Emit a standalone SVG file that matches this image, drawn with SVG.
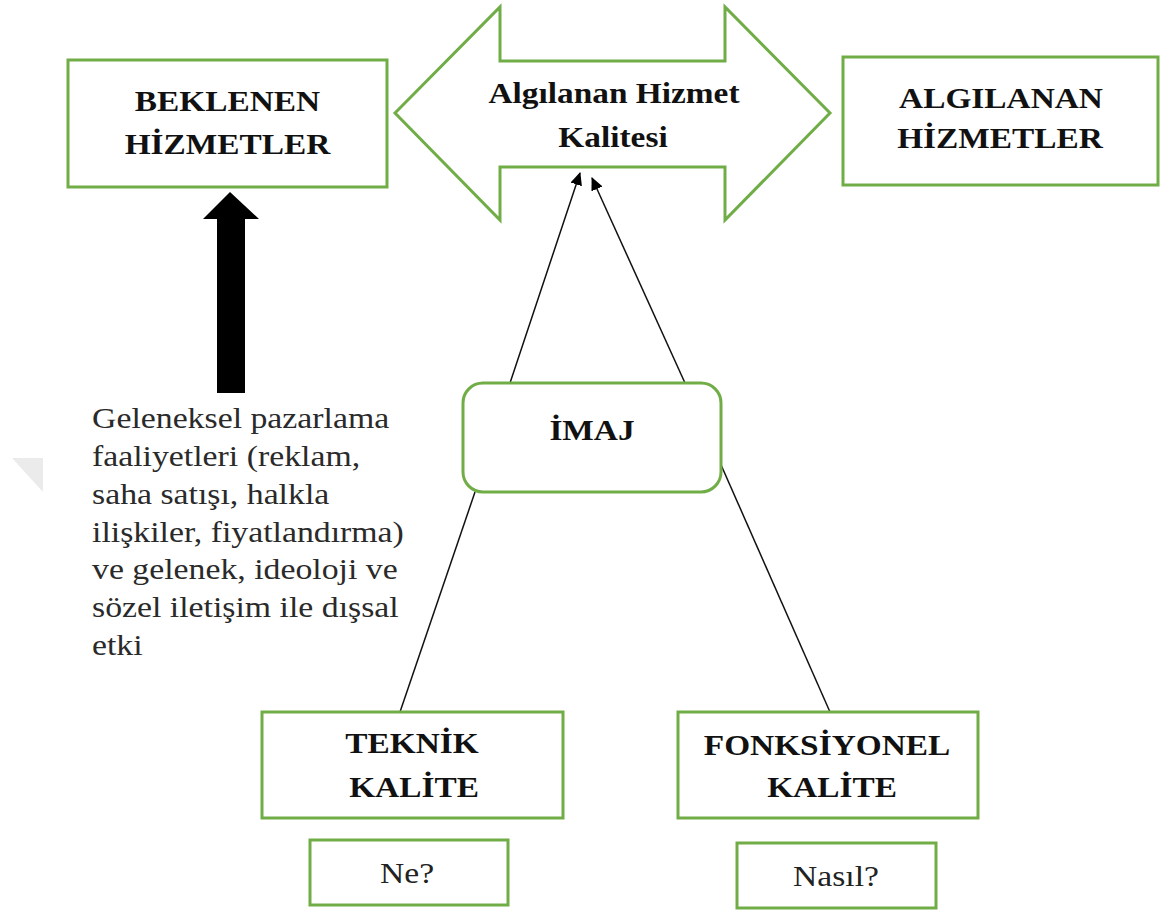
<svg xmlns="http://www.w3.org/2000/svg" width="1162" height="914" viewBox="0 0 1162 914">
  <style>
    .box { fill: #ffffff; stroke: #70AD47; stroke-width: 3; }
    .hd { font-family: "Liberation Serif", "Times New Roman", serif; font-weight: bold; font-size: 29px; fill: #111111; text-anchor: middle; }
    .q { font-family: "Liberation Serif", "Times New Roman", serif; font-size: 30px; fill: #222222; text-anchor: middle; }
    .para { font-family: "Liberation Serif", "Times New Roman", serif; font-size: 29px; fill: #2a2a2a; }
    .link { stroke: #111111; stroke-width: 1.5; fill: none; }
  </style>
  <defs>
    <marker id="tip" viewBox="0 0 13 12" refX="12" refY="6" markerWidth="13" markerHeight="12" markerUnits="userSpaceOnUse" orient="auto">
      <path d="M0,0 L13,6 L0,12 Z" fill="#000000"/>
    </marker>
  </defs>

  <rect width="1162" height="914" fill="#ffffff"/>

  <!-- faint corner mark -->
  <polygon points="12,458 43,458 43,492" fill="#ebebeb"/>

  <!-- connectors -->
  <g id="connectors">
    <line class="link" x1="510" y1="383" x2="580" y2="173" marker-end="url(#tip)"/>
    <line class="link" x1="685" y1="383" x2="592" y2="178" marker-end="url(#tip)"/>
    <line class="link" x1="475" y1="492" x2="400" y2="712"/>
    <line class="link" x1="718" y1="458" x2="830" y2="712"/>
    <!-- thick upward arrow into expected services -->
    <polygon points="230,192 259,219 245,219 245,393 217,393 217,219 203,219" fill="#000000"/>
  </g>

  <g id="beklenen">
    <rect class="box" x="68" y="60" width="319" height="127"/>
    <text class="hd" transform="translate(227.5,111) scale(1.15,1)">BEKLENEN</text>
    <text class="hd" transform="translate(227.5,154) scale(1.15,1)">HİZMETLER</text>
  </g>

  <g id="algilanan-kalite">
    <polygon class="box" points="395,113 500,7 500,61 725,61 725,7 830,113 725,220 725,167 500,167 500,220"/>
    <text class="hd" transform="translate(614,103) scale(1.15,1)">Algılanan Hizmet</text>
    <text class="hd" transform="translate(613,147) scale(1.15,1)">Kalitesi</text>
  </g>

  <g id="algilanan">
    <rect class="box" x="843" y="57" width="315" height="128"/>
    <text class="hd" transform="translate(1001,108) scale(1.15,1)">ALGILANAN</text>
    <text class="hd" transform="translate(1000,148) scale(1.15,1)">HİZMETLER</text>
  </g>

  <g id="dissal-etki">
    <text class="para" transform="translate(92,428) scale(1.165,1)">Geleneksel pazarlama</text>
    <text class="para" transform="translate(92,466) scale(1.165,1)">faaliyetleri (reklam,</text>
    <text class="para" transform="translate(92,504) scale(1.165,1)">saha satışı, halkla</text>
    <text class="para" transform="translate(92,541.5) scale(1.165,1)">ilişkiler, fiyatlandırma)</text>
    <text class="para" transform="translate(92,579) scale(1.165,1)">ve gelenek, ideoloji ve</text>
    <text class="para" transform="translate(92,617) scale(1.165,1)">sözel iletişim ile dışsal</text>
    <text class="para" transform="translate(92,655) scale(1.165,1)">etki</text>
  </g>

  <g id="imaj">
    <rect class="box" x="463" y="383" width="258" height="109" rx="20" ry="20"/>
    <text class="hd" transform="translate(592,440) scale(1.15,1)">İMAJ</text>
  </g>

  <g id="teknik">
    <rect class="box" x="262" y="712" width="301" height="106"/>
    <text class="hd" transform="translate(412,753) scale(1.15,1)">TEKNİK</text>
    <text class="hd" transform="translate(414,797) scale(1.15,1)">KALİTE</text>
  </g>

  <g id="fonksiyonel">
    <rect class="box" x="678" y="712" width="300" height="106"/>
    <text class="hd" transform="translate(827,755) scale(1.15,1)">FONKSİYONEL</text>
    <text class="hd" transform="translate(832,797) scale(1.15,1)">KALİTE</text>
  </g>

  <g id="ne">
    <rect class="box" x="310" y="840" width="198" height="65"/>
    <text class="q" transform="translate(407,883) scale(1.12,1)">Ne?</text>
  </g>

  <g id="nasil">
    <rect class="box" x="737" y="843" width="199" height="65"/>
    <text class="q" transform="translate(836,886) scale(1.12,1)">Nasıl?</text>
  </g>
</svg>
